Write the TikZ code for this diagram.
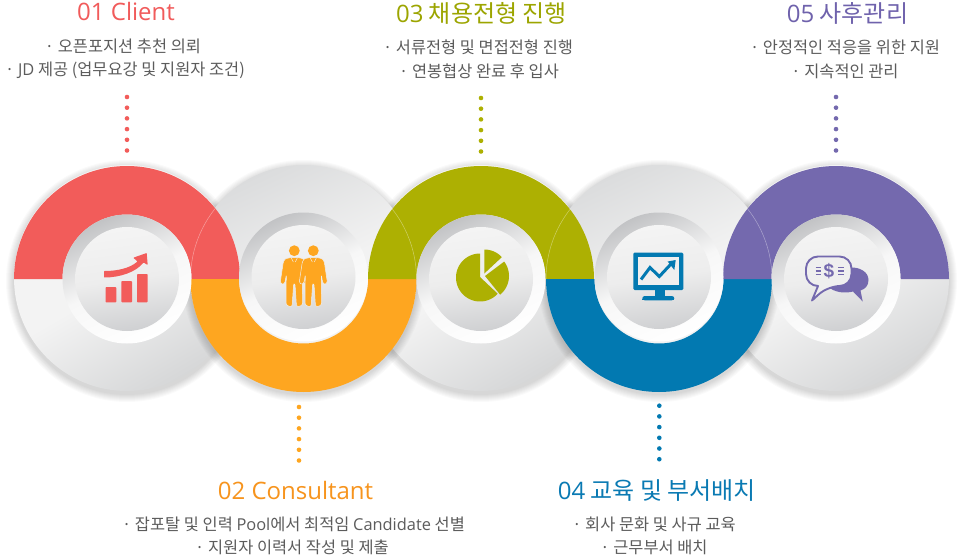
\documentclass[tikz,border=0pt]{standalone}
\usepackage{fontspec}
\setmainfont{Noto Sans CJK KR}
\newfontfamily\lat{Open Sans}
\newfontfamily\dollar{Liberation Sans}[BoldFont={Liberation Sans Bold}]
\definecolor{cred}{HTML}{F25C5A}
\definecolor{corange}{HTML}{FEA620}
\definecolor{colive}{HTML}{ADB002}
\definecolor{cblue}{HTML}{0279B1}
\definecolor{cpurple}{HTML}{7469AE}
\definecolor{tred}{HTML}{F15B5B}
\definecolor{torange}{HTML}{F7941D}
\definecolor{tolive}{HTML}{9CA500}
\definecolor{tblue}{HTML}{0A7AB3}
\definecolor{tpurple}{HTML}{6F62AC}
\definecolor{ctext}{HTML}{5C5C5C}
\definecolor{iconbg}{HTML}{EFEFEF}
\definecolor{F2}{HTML}{F3F3F3}\definecolor{F1}{HTML}{F2F2F2}\definecolor{D8}{HTML}{D6D7D8}\definecolor{D9}{HTML}{DBDCDD}
\definecolor{C4}{HTML}{C2C3C5}\definecolor{F3}{HTML}{F4F4F4}\definecolor{EE}{HTML}{EDEDED}\definecolor{CF}{HTML}{CFD0D2}
\definecolor{MW}{HTML}{F7F7F7}
\tikzset{
  px/.style={y=-1pt,yshift=558pt},
  discbase/.style={circle,inner sep=0pt,outer sep=0pt,minimum size=226pt},
  discdown/.style={discbase,top color=F2,bottom color=D8,middle color=F2,shading angle=30},
  discup/.style={discbase,top color=D9,bottom color=F1,middle color=F1,shading angle=25},
  ringdisc/.style={circle,inner sep=0pt,outer sep=0pt,minimum size=129pt,top color=C4,bottom color=white,middle color=MW,shading angle=25},
  innerdisc/.style={circle,inner sep=0pt,outer sep=0pt,minimum size=104pt,top color=F3,bottom color=CF,middle color=EE,shading angle=8},
  dotline/.style={#1,line cap=round,line width=4.6pt,dash pattern=on 0pt off 10.7pt},
  title/.style={inner sep=0pt,font=\fontsize{24}{28}\selectfont},
  body/.style={inner sep=0pt,text=ctext,font=\fontsize{16.4}{19}\selectfont},
  faint/.style={white,opacity=.4,line width=.5pt}
}
\newcommand{\softshadow}[2]{\foreach \rr in {114,115,...,121}{\fill[black,opacity=.018] (#1,#2-3) circle (\rr);}}
\newcommand{\halfup}[2]{\fill[#2] (#1-113,279) arc[start angle=180,end angle=0,radius=113] -- (#1+64.5,279) arc[start angle=0,end angle=180,radius=64.5] -- cycle;}
\newcommand{\halfdown}[2]{\fill[#2] (#1-113,279) arc[start angle=180,end angle=360,radius=113] -- (#1+64.5,279) arc[start angle=360,end angle=180,radius=64.5] -- cycle;}
\newcommand{\person}[1]{%
  \fill[corange] (#1,250.7) circle (5.4);
  \fill[corange,draw=iconbg,line width=.5pt,rounded corners=1pt]
    (#1-3,257.5) -- (#1-9,258.7) -- (#1-11,262) -- (#1-14,282) -- (#1-12,284.5) -- (#1-9.5,283) -- (#1-8,275)
    -- (#1-8.3,304) -- (#1-6,306.3) -- (#1-2.2,306.3) -- (#1-.7,284) -- (#1+.7,284) -- (#1+2.2,306.3) -- (#1+6,306.3) -- (#1+8.3,304)
    -- (#1+8,275) -- (#1+9.5,283) -- (#1+12,284.5) -- (#1+14,282) -- (#1+11,262) -- (#1+9,258.7) -- (#1+3,257.5) -- cycle;
  \draw[iconbg,line width=.5pt] (#1-3,258) -- (#1-1,262) (#1+3,258) -- (#1+1,262);
}
\begin{document}
\begin{tikzpicture}[x=1pt,y=1pt]
\useasboundingbox (0,0) rectangle (960,558);
\fill[white] (0,0) rectangle (960,558);
% shadows and grey discs
\softshadow{127}{280}\node[discdown] (c1) at (127,280) {};
\softshadow{481}{280}\node[discdown] (c3) at (481,280) {};
\softshadow{836}{280}\node[discdown] (c5) at (836,280) {};
\softshadow{303.5}{280}\node[discup] (c2) at (303.5,280) {};
\softshadow{659}{280}\node[discup] (c4) at (659,280) {};
% coloured half rings
\halfup{127}{cred}
\halfdown{303.5}{corange}
\halfup{481}{colive}
\halfdown{659}{cblue}
\halfup{836}{cpurple}
% faint outlines
\draw[faint] (303.5,279)++(180:113) arc[start angle=180,end angle=141.6,radius=113];
\draw[faint] (303.5,279)++(0:113) arc[start angle=0,end angle=38.4,radius=113];
\draw[faint] (659,279)++(180:113) arc[start angle=180,end angle=141.6,radius=113];
\draw[faint] (659,279)++(0:113) arc[start angle=0,end angle=38.4,radius=113];
% inner rings
\node[ringdisc] (r1) at (127,279) {};
\node[ringdisc] (r2) at (303.5,281) {};
\node[ringdisc] (r3) at (481,279) {};
\node[ringdisc] (r4) at (659,281) {};
\node[ringdisc] (r5) at (836,279) {};
\node[innerdisc] (i1) at (127,279) {};
\node[innerdisc] (i2) at (303.5,281) {};
\node[innerdisc] (i3) at (481,279) {};
\node[innerdisc] (i4) at (659,281) {};
\node[innerdisc] (i5) at (836,279) {};
\begin{scope}[px]
% dotted connectors
\coordinate (a1) at (127,97);  \coordinate (b1) at (127,151);
\coordinate (a2) at (299,407); \coordinate (b2) at (299,461);
\coordinate (a3) at (481,98);  \coordinate (b3) at (481,152);
\coordinate (a4) at (659.3,405.7); \coordinate (b4) at (659.3,459.7);
\coordinate (a5) at (836,97);  \coordinate (b5) at (836,151);
\draw[dotline=cred] (a1) -- (b1);
\draw[dotline=corange] (a2) -- (b2);
\draw[dotline=colive] (a3) -- (b3);
\draw[dotline=cblue] (a4) -- (b4);
\draw[dotline=cpurple] (a5) -- (b5);
% texts
\node[title,text=tred] (t1) at (126,12) {\lat 01 Client};
\node[body] (t1a) at (123,46) {· 오픈포지션 추천 의뢰};
\node[body] (t1b) at (125,70) {· {\lat JD} 제공 (업무요강 및 지원자 조건)};
\node[title,text=torange] (t2) at (295.5,490) {\lat 02 Consultant};
\node[body] (t2a) at (293.5,524) {· 잡포탈 및 인력 {\lat Pool}에서 최적임 {\lat Candidate} 선별};
\node[body] (t2b) at (292,547) {· 지원자 이력서 작성 및 제출};
\node[title,text=tolive] (t3) at (481.5,13) {{\lat 03} 채용전형 진행};
\node[body] (t3a) at (478,47) {· 서류전형 및 면접전형 진행};
\node[body] (t3b) at (479,71) {· 연봉협상 완료 후 입사};
\node[title,text=tblue] (t4) at (657,491) {{\lat 04} 교육 및 부서배치};
\node[body] (t4a) at (654,524) {· 회사 문화 및 사규 교육};
\node[body] (t4b) at (654,547) {· 근무부서 배치};
\node[title,text=tpurple] (t5) at (847.5,13) {{\lat 05} 사후관리};
\node[body] (t5a) at (845,47) {· 안정적인 적응을 위한 지원};
\node[body] (t5b) at (845,71) {· 지속적인 관리};
% icon 1: rising bars
\fill[cred,rounded corners=.8pt] (105.5,287) rectangle (116.3,302.3);
\fill[cred,rounded corners=.8pt] (121.3,281) rectangle (132,302.3);
\fill[cred,rounded corners=.8pt] (137,274) rectangle (147.7,302.3);
\fill[cred,rounded corners=.6pt] (104,271) .. controls (118,271) and (130,268) .. (137.5,261.5)
  -- (133.3,257.7) -- (146.7,253) -- (147.7,265) -- (143.5,262.5)
  .. controls (136,272) and (120,277.5) .. (104,277.5) -- cycle;
% icon 2: two people
\person{294.3}
\person{313.3}
% icon 3: pie
\fill[colive] (480,277) -- plot[domain=90:317.5,samples=50] ({480+24*cos(\x)},{277.5-24*sin(\x)}) -- cycle;
\fill[colive] (485,276) -- plot[domain=37:-51,samples=30] ({485+24*cos(\x)},{276-24*sin(\x)}) -- cycle;
\fill[colive] (484.3,273.5) -- plot[domain=90:43,samples=20] ({484.3+24*cos(\x)},{273.5-24*sin(\x)}) -- cycle;
% icon 4: monitor
\fill[cblue,rounded corners=1.2pt] (633.3,252.7) rectangle (683.3,290);
\fill[iconbg] (637.7,256.7) rectangle (679,285.3);
\fill[cblue] (655,289) rectangle (665,297);
\fill[cblue,rounded corners=2.5pt] (642.3,300.3) -- (642.3,296) -- (674.3,296) -- (674.3,300.3) -- cycle;
\fill[cblue] (642.3,299) rectangle (674.3,300.3);
\draw[cblue,line width=3pt,line join=miter] (641,279.5) -- (650,267.5) -- (659.3,276.5) -- (671,264);
\fill[cblue] (667.7,261.5) -- (675.7,260) -- (674.3,270) -- cycle;
% icon 5: speech bubbles
\fill[cpurple] (850,267.5) .. controls (860,267) and (868.5,272) .. (868.5,280)
  .. controls (868.5,286) and (865,289) .. (860.5,290.5) -- (862.7,301.5) -- (853,291.5)
  .. controls (845,293.5) and (835,293) .. (827,286) -- cycle;
\draw[cpurple,fill=iconbg,line width=1.9pt,line join=round,rounded corners=12pt]
  (818,286) -- (806,286) -- (806,256.5) -- (851.5,256.5) -- (851.5,286) -- (828,286) [sharp corners] -- (812,300.5) -- cycle;
\node[inner sep=0pt,text=cpurple,font=\dollar\bfseries\fontsize{19}{19}\selectfont] (dl) at (829,271) {\$};
\draw[cpurple,line width=1.5pt] (815.7,267.3) -- (821,267.3) (815.7,271) -- (821,271) (815.7,274.5) -- (821,274.5)
  (838.3,267.3) -- (844.3,267.3) (838.3,271) -- (844.3,271) (838.3,274.5) -- (844.3,274.5);
\end{scope}
\end{tikzpicture}
\end{document}
